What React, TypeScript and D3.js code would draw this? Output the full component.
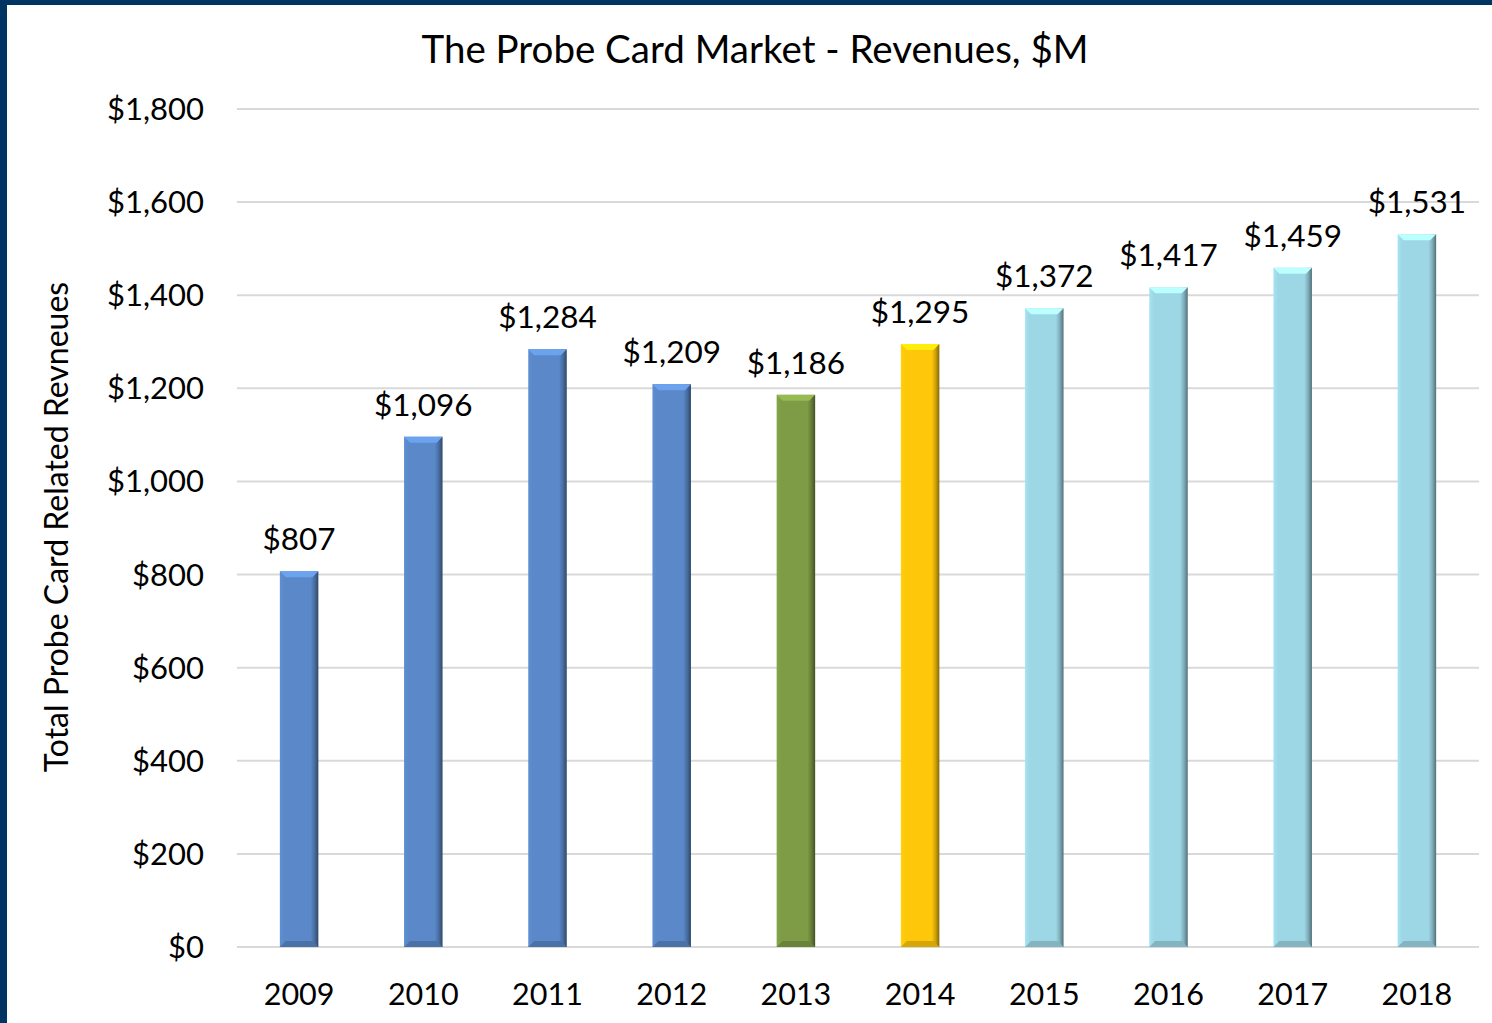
import React from "react";
import * as d3 from "d3";

const years = ["2009", "2010", "2011", "2012", "2013", "2014", "2015", "2016", "2017", "2018"];
const revenues = [807, 1096, 1284, 1209, 1186, 1295, 1372, 1417, 1459, 1531];
const barColors = ["#5A88C8", "#5A88C8", "#5A88C8", "#5A88C8", "#7E9C45", "#FFC70A", "#9DD7E6", "#9DD7E6", "#9DD7E6", "#9DD7E6"];
const yTicks = [0, 200, 400, 600, 800, 1000, 1200, 1400, 1600, 1800];

const W = 1492;
const H = 1023;
const FONT = "Lato, 'Open Sans', sans-serif";

export default function App() {
  const x = d3.scaleBand<string>().domain(years).range([237, 1479]).paddingInner(0.69).paddingOuter(0.345);
  const y = d3.scaleLinear().domain([0, 1800]).range([947, 109]);
  const fmt = (v: number) => "$" + d3.format(",")(v);
  const bw = x.bandwidth();
  const bev = 6;

  return (
    <svg width={W} height={H} style={{ display: "block", position: "absolute", left: 0, top: 0 }}>
      <defs>
        {barColors.map((c, i) => {
          const base = d3.color(c)!;
          return (
            <linearGradient key={i} id={`g${i}`} x1="0" x2="1" y1="0" y2="0">
              <stop offset="0" stopColor={d3.color(c)!.brighter(0.15).formatHex()} />
              <stop offset="0.12" stopColor={base.formatHex()} />
              <stop offset="0.8" stopColor={base.formatHex()} />
              <stop offset="0.9" stopColor={d3.color(c)!.darker(0.6).formatHex()} />
              <stop offset="1" stopColor={d3.color(c)!.darker(1.8).formatHex()} />
            </linearGradient>
          );
        })}
      </defs>
      <rect x={0} y={0} width={W} height={H} fill="#ffffff" />
      <rect x={0} y={0} width={W} height={5} fill="#003463" />
      <rect x={0} y={0} width={7} height={H} fill="#003463" />
      <text x={755} y={63} textAnchor="middle" fontFamily={FONT} fontSize={38.5} fill="#000">
        The Probe Card Market - Revenues, $M
      </text>
      {yTicks.map((t) => (
        <g key={t}>
          <line x1={237} x2={1479} y1={y(t)} y2={y(t)} stroke="#d9d9d9" strokeWidth={2} />
          <text x={204} y={y(t) + 11} textAnchor="end" fontFamily={FONT} fontSize={31} fill="#000">
            {fmt(t)}
          </text>
        </g>
      ))}
      <text
        transform={`translate(68,527) rotate(-90)`}
        textAnchor="middle"
        fontFamily={FONT}
        fontSize={32}
        fill="#000"
      >
        Total Probe Card Related Revneues
      </text>
      {years.map((yr, i) => {
        const x0 = x(yr)!;
        const top = y(revenues[i]);
        const bottom = y(0);
        const c = barColors[i];
        return (
          <g key={yr}>
            <rect x={x0} y={top} width={bw} height={bottom - top} fill={`url(#g${i})`} />
            <polygon
              points={`${x0},${top} ${x0 + bw},${top} ${x0 + bw - bev},${top + bev} ${x0 + bev},${top + bev}`}
              fill={d3.color(c)!.brighter(0.5).formatHex()}
            />
            <polygon
              points={`${x0},${bottom} ${x0 + bw},${bottom} ${x0 + bw - bev},${bottom - bev} ${x0 + bev},${bottom - bev}`}
              fill={d3.color(c)!.darker(0.5).formatHex()}
            />
            <text x={x0 + bw / 2} y={top - 21} textAnchor="middle" fontFamily={FONT} fontSize={31.5} fill="#000">
              {fmt(revenues[i])}
            </text>
            <text x={x0 + bw / 2} y={1005} textAnchor="middle" fontFamily={FONT} fontSize={30.5} fill="#000">
              {yr}
            </text>
          </g>
        );
      })}
    </svg>
  );
}
